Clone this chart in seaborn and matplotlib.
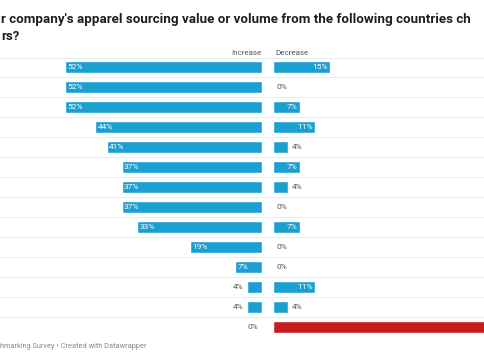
import pandas as pd
import matplotlib.pyplot as plt
import seaborn as sns

# Datos (los nombres de país quedan fuera del recorte de la imagen)
paises = ["Vietnam", "India", "Bangladesh", "Indonesia", "Cambodia", "Sri Lanka",
          "Pakistan", "Mexico", "Central America", "Turkey", "Italy", "Other", "US", "China"]
aumento = [52, 52, 52, 44, 41, 37, 37, 37, 33, 19, 7, 4, 4, 0]
disminucion = [15, 0, 7, 11, 4, 7, 4, 0, 7, 0, 0, 11, 4, 61]
destacado = "China"

titulo_1 = "r company's apparel sourcing value or volume from the following countries ch"
titulo_2 = "rs?"
pie = "hmarking Survey \u2022 Created with Datawrapper"

AZUL = "#1a9fd0"
ROJO = "#c81d1f"

df = pd.DataFrame({"pais": paises, "aumento": aumento, "disminucion": disminucion})
colores = {p: (ROJO if p == destacado else AZUL) for p in paises}

sns.set_style("white")
plt.rcParams["font.family"] = ["Roboto", "DejaVu Sans"]

W, H = 485, 360
fig = plt.figure(figsize=(W / 100, H / 100), dpi=100)


def caja(x0, y0, x1, y1):
    return [x0 / W, 1 - y1 / H, (x1 - x0) / W, (y1 - y0) / H]


ESC = 3.79  # px por punto porcentual
n = len(paises)

# Fondo con líneas separadoras
ax_bg = fig.add_axes(caja(0, 57, 485, 337))
ax_bg.set_xlim(0, 1)
ax_bg.set_ylim(n - 0.5, -0.5)
for i in range(n - 1):
    ax_bg.axhline(i + 0.5, color="#ececec", lw=0.7)
ax_bg.axhline(-0.45, color="#e3eef4", lw=0.7)
ax_bg.axis("off")

ax_izq = fig.add_axes(caja(0, 57, 262, 337))
ax_der = fig.add_axes(caja(273, 57, 485, 337))

sns.barplot(data=df, y="pais", x="aumento", hue="pais", palette=colores,
            orient="h", width=0.64, saturation=1, legend=False, ax=ax_izq)
sns.barplot(data=df, y="pais", x="disminucion", hue="pais", palette=colores,
            orient="h", width=0.64, saturation=1, legend=False, ax=ax_der)

max_izq = 262 / ESC
max_der = 212 / ESC
ax_izq.set_xlim(max_izq, 0)
ax_der.set_xlim(0, max_der)

for ax in (ax_izq, ax_der):
    ax.set_ylim(n - 0.5, -0.5)
    ax.axis("off")
    ax.patch.set_alpha(0)

# Etiquetas de valores (la del valor que sale del recorte no se ve)
for i, (a, d) in enumerate(zip(aumento, disminucion)):
    if a >= 7:
        ax_izq.text(a - 0.6, i, f"{a}%", color="white", fontsize=6,
                    ha="left", va="center")
    else:
        ax_izq.text(a + 1.0, i, f"{a}%", color="#555555", fontsize=6,
                    ha="right", va="center")
    if d > max_der:
        continue
    if d >= 7:
        ax_der.text(d - 0.6, i, f"{d}%", color="white", fontsize=6,
                    ha="right", va="center")
    else:
        ax_der.text(d + 1.0, i, f"{d}%", color="#555555", fontsize=6,
                    ha="left", va="center")

# Encabezados
fig.text(262 / W, 1 - 53 / H, "Increase", ha="right", va="center",
         fontsize=5.8, color="#555555")
fig.text(275 / W, 1 - 53 / H, "Decrease", ha="left", va="center",
         fontsize=5.8, color="#555555")

# Título y pie
fig.text(1 / W, 1 - 20 / H, titulo_1, ha="left", va="center",
         fontsize=9.6, fontweight="bold", color="#1e1e1e")
fig.text(1 / W, 1 - 37 / H, titulo_2, ha="left", va="center",
         fontsize=9.6, fontweight="bold", color="#1e1e1e")
fig.text(0, 1 - 347 / H, pie, ha="left", va="center",
         fontsize=5.3, color="#8a8a8a")

fig.savefig("out.png", dpi=100)
